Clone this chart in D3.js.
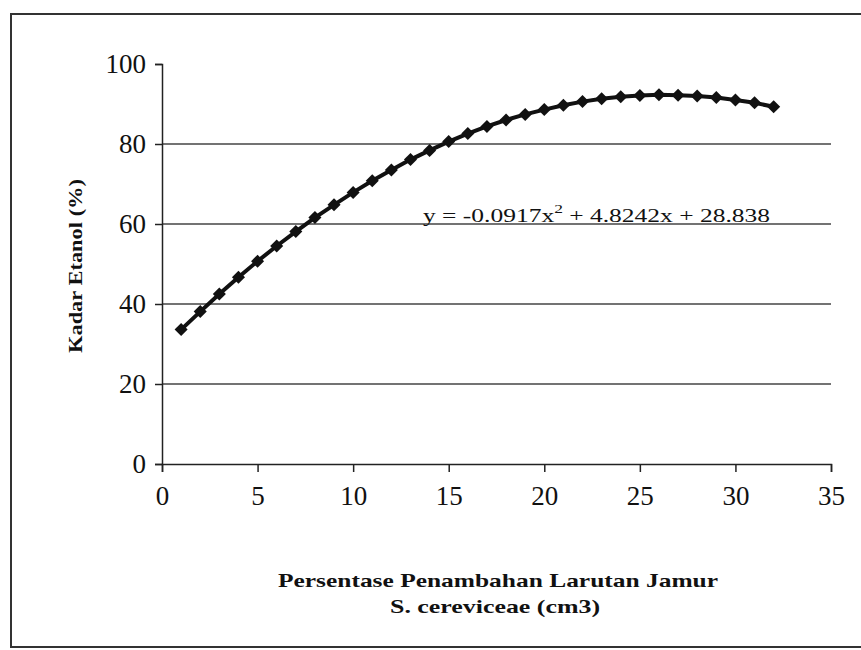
<!DOCTYPE html>
<html>
<head>
<meta charset="utf-8">
<script src="https://cdn.jsdelivr.net/npm/d3@7"></script>
<style>
  body { margin: 0; background: #fff; }
  svg { display: block; }
</style>
</head>
<body>
<svg id="chart" width="861" height="650"></svg>
<script>
// Data
const xValues = [1,2,3,4,5,6,7,8,9,10,11,12,13,14,15,16,17,18,19,20,21,22,23,24,25,26,27,28,29,30,31,32];
const yValues = [33.6,38.1,42.5,46.7,50.7,54.5,58.1,61.6,64.8,67.9,70.8,73.5,76.1,78.4,80.6,82.6,84.4,86.0,87.4,88.6,89.7,90.6,91.3,91.8,92.1,92.3,92.2,92.0,91.6,91.0,90.3,89.3];
const xTicks = [0,5,10,15,20,25,30,35];
const yTicks = [0,20,40,60,80,100];
const gridValues = [20,40,60,80];
const xTitle1 = "Persentase Penambahan Larutan Jamur";
const xTitle2 = "S. cereviceae (cm3)";
const yTitle = "Kadar Etanol (%)";

const svg = d3.select("#chart");
const serif = "'Liberation Serif', 'Times New Roman', serif";

// Outer frame
svg.append("rect").attr("x", 11).attr("y", 14).attr("width", 870).attr("height", 633)
  .attr("fill", "none").attr("stroke", "#333").attr("stroke-width", 2);

const x = d3.scaleLinear().domain([0, 35]).range([162, 831]);
const y = d3.scaleLinear().domain([0, 100]).range([464, 64]);

// gridlines
svg.append("g").selectAll("line").data(gridValues).join("line")
  .attr("x1", x(0)).attr("x2", x(35))
  .attr("y1", d => y(d)).attr("y2", d => y(d))
  .attr("stroke", "#444").attr("stroke-width", 1.5);

// Y axis
const yAxis = svg.append("g").attr("transform", `translate(${x(0)},0)`)
  .call(d3.axisLeft(y).tickValues(yTicks).tickSize(7).tickPadding(9));
yAxis.select(".domain").attr("stroke", "#222").attr("stroke-width", 1.5);
yAxis.selectAll(".tick line").attr("stroke", "#222").attr("stroke-width", 1.5);
yAxis.selectAll("text").attr("font-family", serif).attr("font-size", 27).attr("fill", "#111");

// X axis
const xAxis = svg.append("g").attr("transform", `translate(0,${y(0)})`)
  .call(d3.axisBottom(x).tickValues(xTicks).tickSize(8).tickPadding(14));
xAxis.select(".domain").attr("stroke", "#222").attr("stroke-width", 1.5);
xAxis.selectAll(".tick line").attr("stroke", "#222").attr("stroke-width", 1.5);
xAxis.selectAll("text").attr("font-family", serif).attr("font-size", 27).attr("fill", "#111");

// Series line
const pts = xValues.map((v, i) => [v, yValues[i]]);
svg.append("path").datum(pts)
  .attr("fill", "none").attr("stroke", "#111").attr("stroke-width", 4)
  .attr("d", d3.line().x(d => x(d[0])).y(d => y(d[1])));

// Diamond markers
svg.append("g").selectAll("path").data(pts).join("path")
  .attr("transform", d => `translate(${x(d[0])},${y(d[1])}) rotate(45)`)
  .attr("d", d3.symbol().type(d3.symbolSquare).size(85))
  .attr("fill", "#111");

// Equation label
const eq = svg.append("text").attr("x", 423).attr("y", 222)
  .attr("font-family", serif).attr("font-size", 19).attr("fill", "#111")
  .attr("textLength", 347).attr("lengthAdjust", "spacingAndGlyphs");
eq.append("tspan").text("y = -0.0917x");
eq.append("tspan").attr("dy", -9).attr("font-size", 13).text("2");
eq.append("tspan").attr("dy", 9).text(" + 4.8242x + 28.838");

// Axis titles
svg.append("text").attr("x", 498).attr("y", 587)
  .attr("text-anchor", "middle").attr("font-family", serif).attr("font-weight", "bold")
  .attr("font-size", 19).attr("fill", "#111")
  .attr("textLength", 440).attr("lengthAdjust", "spacingAndGlyphs")
  .text(xTitle1);
svg.append("text").attr("x", 495).attr("y", 613)
  .attr("text-anchor", "middle").attr("font-family", serif).attr("font-weight", "bold")
  .attr("font-size", 19).attr("fill", "#111")
  .attr("textLength", 210).attr("lengthAdjust", "spacingAndGlyphs")
  .text(xTitle2);
svg.append("text")
  .attr("transform", "translate(82,266) rotate(-90)")
  .attr("text-anchor", "middle").attr("font-family", serif).attr("font-weight", "bold")
  .attr("font-size", 19).attr("fill", "#111")
  .attr("textLength", 174).attr("lengthAdjust", "spacingAndGlyphs")
  .text(yTitle);
</script>
</body>
</html>
